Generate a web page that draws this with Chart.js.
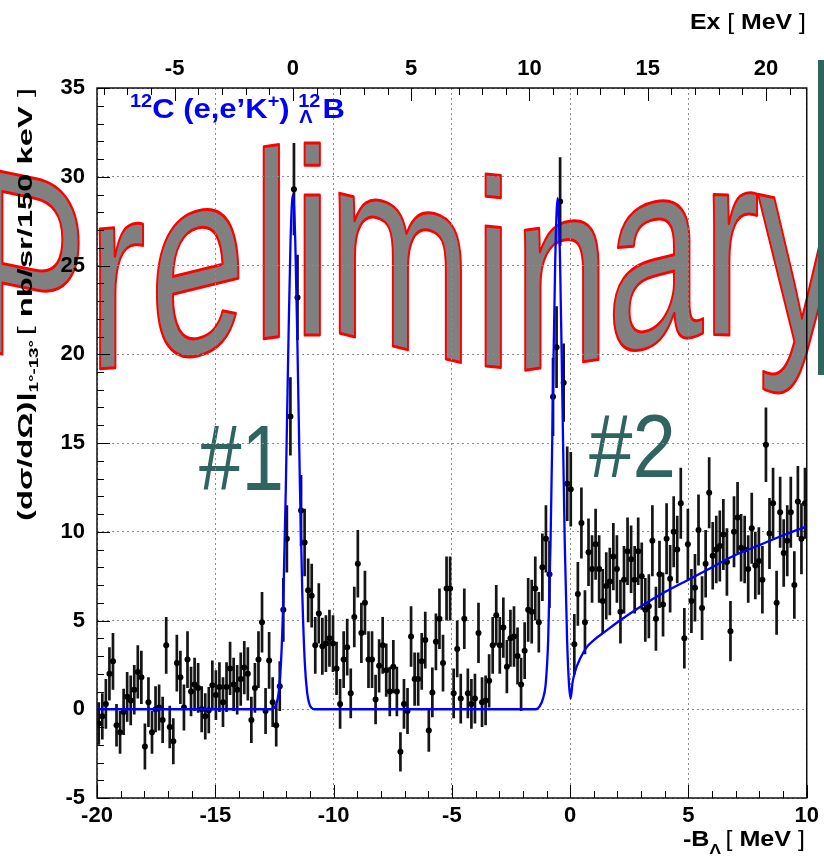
<!DOCTYPE html>
<html>
<head>
<meta charset="utf-8">
<script src="https://cdn.jsdelivr.net/npm/chart.js@4.4.1/dist/chart.umd.min.js"></script>
<style>
  html, body { margin: 0; padding: 0; background: #fff; }
  #wrap { width: 824px; height: 862px; }
</style>
</head>
<body>
<div id="wrap"><canvas id="chart" width="824" height="862"></canvas></div>
<script>
// histogram binning of -B_Lambda (MeV)
const binLow = -20;
const binWidth = 0.15;

// (dsigma/dOmega) per 150 keV bin
const counts = [
  -0.8, -0.4, 0.3, 2.0, 2.7, -0.9, -1.3, -0.15, 0.7, 0.5,
  1.1, 2.1, 1.8, -2.1, 0.4, -1.3, 0.0, 0.1, -0.6, 3.6,
  -1.0, -1.8, 2.6, 1.8, 0.1, 2.8, 1.0, 1.4, 1.2, 0.0,
  -0.4, -0.05, 1.35, 0.8, 1.25, 0.4, 1.25, 2.3, 1.4, 1.1,
  1.7, 2.35, 2.0, -0.6, 1.2, 2.8, 4.9, -0.1, 2.75, 0.4,
  -0.9, 1.3, 5.6, 9.6, 16.5, 29.3, 23.2, 11.2, 9.4, 6.7,
  6.4, 3.6, 5.4, 3.55, 3.7, 4.0, 3.7, 2.3, 0.3, 2.8,
  3.5, 0.9, 5.2, 8.2, 4.3, 6.0, 2.8, 2.8, 0.55, 2.45,
  3.6, 2.2, 1.0, 2.4, 1.0, -2.4, 0.3, -0.1, 4.1, 1.7,
  1.7, 2.7, 3.9, -1.2, 0.95, 3.8, 5.1, 2.6, 6.8, 6.8,
  0.9, 3.4, 0.6, 5.1, 0.9, 0.3, 0.6, 4.3, 0.4, 0.5,
  1.6, 3.6, 5.3, 3.6, 4.6, 2.4, 4.0, 4.1, 3.0, 1.4,
  3.3, 5.6, 5.5, 6.8, 4.9, 8.0, 9.6, 7.6, 17.6, 20.4,
  28.6, 18.4, 12.7, 12.4, 3.66, 6.5, 10.5, 4.9, 8.85, 7.9,
  9.3, 7.9, 6.1, 6.95, 7.2, 8.6, 7.9, 5.5, 7.3, 8.9,
  8.45, 7.3, 8.9, 7.5, 5.6, 5.8, 9.5, 5.1, 7.6, 5.9,
  9.6, 7.35, 10.0, 9.0, 11.6, 4.0, 9.3, 6.1, 6.85, 10.1,
  5.7, 8.2, 12.2, 8.65, 9.0, 9.2, 9.85, 8.3, 4.4, 10.0,
  10.8, 9.1, 9.0, 7.9, 10.2, 8.1, 8.35, 7.3, 14.9, 9.9,
  11.6, 6.0, 11.1, 8.8, 9.5, 11.1, 7.0, 11.7, 9.6, 11.6
];

// half length of each error bar
const errors = [
  1.2, 1.3, 1.4, 1.5, 1.6, 1.2, 1.2, 1.3, 1.4, 1.4,
  1.4, 1.5, 1.5, 1.3, 1.4, 1.2, 1.3, 1.3, 1.3, 1.6,
  1.2, 1.3, 1.6, 1.5, 1.3, 1.6, 1.4, 1.5, 1.4, 1.3,
  1.3, 1.3, 1.4, 1.4, 1.4, 1.4, 1.4, 1.5, 1.5, 1.4,
  1.5, 1.5, 1.5, 1.3, 1.4, 1.6, 1.7, 1.3, 1.6, 1.4,
  1.2, 1.4, 1.8, 1.9, 2.2, 2.6, 2.4, 2.0, 1.9, 1.8,
  1.8, 1.6, 1.7, 1.6, 1.6, 1.6, 1.6, 1.5, 1.4, 1.6,
  1.6, 1.4, 1.7, 1.9, 1.7, 1.8, 1.6, 1.6, 1.4, 1.5,
  1.6, 1.5, 1.4, 1.5, 1.4, 1.1, 1.4, 1.3, 1.7, 1.5,
  1.5, 1.6, 1.6, 1.2, 1.4, 1.6, 1.7, 1.6, 1.8, 1.8,
  1.4, 1.6, 1.4, 1.7, 1.4, 1.4, 1.4, 1.7, 1.4, 1.4,
  1.5, 1.6, 1.7, 1.6, 1.7, 1.5, 1.6, 1.7, 1.6, 1.5,
  1.6, 1.8, 1.8, 1.8, 1.7, 1.9, 1.9, 1.9, 2.2, 2.3,
  2.5, 2.2, 2.1, 2.1, 1.7, 1.8, 2.0, 1.8, 1.9, 1.9,
  2.0, 1.9, 1.8, 1.9, 1.9, 1.9, 1.9, 1.8, 1.9, 1.9,
  1.9, 1.9, 1.9, 1.9, 1.8, 1.8, 2.0, 1.8, 1.9, 1.8,
  2.0, 1.9, 2.0, 1.9, 2.0, 1.7, 2.0, 1.8, 1.9, 2.0,
  1.8, 1.9, 2.0, 1.9, 1.9, 2.0, 2.0, 1.9, 1.7, 2.0,
  2.0, 1.9, 1.9, 1.9, 2.0, 1.9, 1.9, 1.9, 2.1, 2.0,
  2.0, 1.8, 2.0, 1.9, 2.0, 2.0, 1.9, 2.0, 2.0, 2.0
];

// fitted curve, sampled off the blue line
const fitX = [
  -20, -12.62, -12.52, -12.42, -12.32, -12.22, -12.12, -12.02, -11.92, -11.82,
  -11.72, -11.62, -11.52, -11.42, -11.32, -11.22, -11.12, -11.02, -10.92, -10.82,
  -1.45, -1.3, -1.15, -1.03, -0.93, -0.83, -0.73, -0.63, -0.53, -0.43,
  -0.33, -0.23, -0.13, -0.05, 0.02, 0.1, 0.2, 0.4, 0.7, 1.0,
  1.5, 2.0, 3.0, 4.0, 5.0, 6.0, 7.0, 8.0, 9.0, 10.0
];
const fitY = [
  0, 0, 0.07, 0.28, 0.97, 2.7, 6.4, 12.4, 19.9, 26.4,
  29.0, 26.4, 19.9, 12.4, 6.4, 2.7, 0.97, 0.28, 0.07, 0,
  0, 0.15, 0.6, 1.5, 3.9, 9.4, 17.5, 25.4, 28.8, 25.4,
  17.5, 9.4, 3.9, 1.4, 0.6, 1.5, 2.1, 2.8, 3.5, 3.9,
  4.4, 4.9, 5.8, 6.6, 7.3, 8.0, 8.7, 9.25, 9.8, 10.3
];

// axis ranges and ticks
const xTicks = [-20, -15, -10, -5, 0, 5, 10];
const yTicks = [-5, 0, 5, 10, 15, 20, 25, 30, 35];
const exTicks = [-5, 0, 5, 10, 15, 20];
const exShift = 11.72; // Ex = -B_Lambda + shift

const FONT = "'Liberation Sans', Arial, Helvetica, sans-serif";
const TEAL = "#2f6461";

const points = counts.map((v, i) => ({ x: binLow + binWidth * (i + 0.5), y: v, e: errors[i] }));
const fitLine = fitX.map((x, i) => ({ x, y: fitY[i] }));

function richWidth(ctx, parts) {
  let w = 0;
  for (const p of parts) {
    ctx.font = p.font;
    w += ctx.measureText(p.t).width + (p.gap || 0);
  }
  return w;
}

// draw parts left to right, squeezed/stretched to a given total width
function richText(ctx, x, y, parts, width) {
  const natural = richWidth(ctx, parts);
  const k = width ? width / natural : 1;
  ctx.save();
  ctx.translate(x, y);
  ctx.scale(k, 1);
  let cx = 0;
  for (const p of parts) {
    ctx.font = p.font;
    ctx.fillText(p.t, cx, p.dy || 0);
    cx += ctx.measureText(p.t).width + (p.gap || 0);
  }
  ctx.restore();
}

// WordArt style wavy watermark
const wmWord = ["P", "r", "e", "l", "i", "m", "i", "n", "a", "r", "y"];
const wmCenters = [33, 122, 197, 271, 312, 401, 493, 562, 658, 736, 801];
const wave = (x) => 351.5 - 16.5 * Math.cos(2 * Math.PI * (x - 310) / 420);
const waveSlope = (x) => 16.5 * (2 * Math.PI / 420) * Math.sin(2 * Math.PI * (x - 310) / 420);

const backdrop = {
  id: "backdrop",
  beforeDraw(chart) {
    const ctx = chart.ctx;
    ctx.save();
    ctx.fillStyle = "#fff";
    ctx.fillRect(0, 0, chart.width, chart.height);

    const size = 265;
    const sx = 0.655;
    ctx.font = size + "px " + FONT;
    ctx.lineJoin = "round";
    wmWord.forEach((ch, i) => {
      const m = ctx.measureText(ch);
      const inkMid = (m.actualBoundingBoxRight - m.actualBoundingBoxLeft) / 2;
      const cx = wmCenters[i];
      const ox = cx - sx * inkMid;
      const s = waveSlope(cx);
      ctx.setTransform(sx, s * sx, 0, 1, ox, wave(cx) + s * (ox - cx));
      ctx.fillStyle = "#808080";
      ctx.fillText(ch, 0, 0);
      ctx.strokeStyle = "#ff0000";
      ctx.lineWidth = 3;
      ctx.strokeText(ch, 0, 0);
    });
    ctx.setTransform(1, 0, 0, 1, 0, 0);

    ctx.fillStyle = TEAL;
    ctx.fillRect(818, 60, 6, 315);
    ctx.font = "92px " + FONT;
    ctx.save();
    ctx.translate(199, 490);
    ctx.scale(0.83, 1);
    ctx.fillText("#1", 0, 0);
    ctx.restore();
    ctx.save();
    ctx.translate(589, 477);
    ctx.scale(0.85, 0.97);
    ctx.fillText("#2", 0, 0);
    ctx.restore();
    ctx.restore();
  }
};

const errorBars = {
  id: "errorBars",
  beforeDatasetsDraw(chart) {
    const { ctx, chartArea: a, scales: { x, y } } = chart;
    ctx.save();
    ctx.beginPath();
    ctx.rect(a.left, a.top, a.right - a.left, a.bottom - a.top);
    ctx.clip();
    ctx.strokeStyle = "#151515";
    ctx.lineWidth = 2.7;
    ctx.beginPath();
    for (const p of points) {
      const px = x.getPixelForValue(p.x);
      ctx.moveTo(px, y.getPixelForValue(p.y - p.e));
      ctx.lineTo(px, y.getPixelForValue(p.y + p.e));
    }
    ctx.stroke();
    ctx.restore();
  }
};

function minorTicks(lo, hi, step) {
  const out = [];
  for (let v = lo; v <= hi + 1e-9; v += step) out.push(Math.round(v * 1000) / 1000);
  return out;
}

const frame = {
  id: "frame",
  afterDraw(chart) {
    const { ctx, chartArea: a, scales: { x, y, x2 } } = chart;
    ctx.save();
    ctx.strokeStyle = "#000";
    ctx.lineWidth = 1;
    ctx.beginPath();
    for (const v of minorTicks(-5, 35, 1)) {
      const py = Math.round(y.getPixelForValue(v)) + 0.5;
      const len = v % 5 === 0 ? 13 : 7;
      ctx.moveTo(a.left, py);
      ctx.lineTo(a.left + len, py);
    }
    for (const v of minorTicks(-20, 10, 1)) {
      const px = Math.round(x.getPixelForValue(v)) + 0.5;
      const len = v % 5 === 0 ? 13 : 7;
      ctx.moveTo(px, a.bottom);
      ctx.lineTo(px, a.bottom - len);
    }
    for (const v of minorTicks(-8, 21, 1)) {
      const px = Math.round(x2.getPixelForValue(v)) + 0.5;
      const len = v % 5 === 0 ? 13 : 7;
      ctx.moveTo(px, a.top);
      ctx.lineTo(px, a.top + len);
    }
    ctx.stroke();
    ctx.lineWidth = 1.4;
    ctx.strokeRect(a.left, a.top, a.right - a.left, a.bottom - a.top);

    // reaction label 12C(e,e'K+)12_Lambda B
    ctx.fillStyle = "#0000ff";
    ctx.textBaseline = "alphabetic";
    const big = "bold 28px " + FONT;
    const small = "bold 18px " + FONT;
    const titleParts = [
      { t: "12", font: small, dy: -11 },
      { t: "C (e,e\u2019K", font: big },
      { t: "+", font: small, dy: -11 },
      { t: ") ", font: big }
    ];
    ctx.font = small;
    const stackW = ctx.measureText("12").width;
    ctx.font = big;
    const bW = ctx.measureText("B").width;
    const natural = richWidth(ctx, titleParts) + stackW + bW + 2;
    const tk = 215 / natural;
    ctx.save();
    ctx.translate(130, 118);
    ctx.scale(tk, 1);
    let cx = 0;
    for (const p of titleParts) {
      ctx.font = p.font;
      ctx.fillText(p.t, cx, p.dy || 0);
      cx += ctx.measureText(p.t).width;
    }
    ctx.font = small;
    ctx.fillText("12", cx, -11);
    ctx.fillText("\u039b", cx + 1, 5);
    ctx.font = big;
    ctx.fillText("B", cx + stackW + 2, 0);
    ctx.restore();

    // axis titles
    ctx.fillStyle = "#000";
    const tb = "bold 22px " + FONT;
    const tn = "22px " + FONT;
    richText(ctx, 690, 29, [
      { t: "Ex ", font: tb },
      { t: "[ ", font: tn },
      { t: "MeV", font: tb },
      { t: " ]", font: tn }
    ], 116);

    richText(ctx, 683, 846, [
      { t: "-B", font: tb },
      { t: "\u039b", font: "bold 15px " + FONT, dy: 8, gap: 4 },
      { t: "[ ", font: tn },
      { t: "MeV", font: tb },
      { t: " ]", font: tn }
    ], 122);

    ctx.save();
    ctx.translate(32, 521);
    ctx.rotate(-Math.PI / 2);
    richText(ctx, 0, 0, [
      { t: "(d\u03c3/d\u03a9)|", font: "bold 21px " + FONT },
      { t: "1\u00b0-13\u00b0", font: "bold 12px " + FONT, dy: 6, gap: 3 },
      { t: "[ ", font: "21px " + FONT },
      { t: "nb/sr/150 keV", font: "bold 21px " + FONT },
      { t: " ]", font: "21px " + FONT }
    ], 433);
    ctx.restore();
    ctx.restore();
  }
};

const tickFont = { family: FONT, size: 22, weight: "bold" };

new Chart(document.getElementById("chart"), {
  data: {
    datasets: [
      {
        type: "line",
        data: fitLine,
        borderColor: "#0000ff",
        borderWidth: 2.3,
        pointRadius: 0,
        cubicInterpolationMode: "monotone",
        fill: false,
        order: 0
      },
      {
        type: "scatter",
        data: points,
        pointRadius: 3,
        pointBackgroundColor: "#000",
        pointBorderColor: "#000",
        pointBorderWidth: 0,
        order: 1
      }
    ]
  },
  options: {
    responsive: false,
    animation: false,
    devicePixelRatio: 1,
    layout: { padding: { left: 0, right: 16, top: 0, bottom: 0 } },
    plugins: { legend: { display: false }, tooltip: { enabled: false } },
    scales: {
      x: {
        type: "linear",
        position: "bottom",
        min: -20,
        max: 10,
        afterBuildTicks: (s) => { s.ticks = xTicks.map((v) => ({ value: v })); },
        afterFit: (s) => { s.height = 64; },
        ticks: { color: "#000", font: tickFont, padding: 5, maxRotation: 0 },
        grid: { color: "#8c8c8c", lineWidth: 1, drawTicks: false },
        border: { display: false, dash: [2, 3] }
      },
      x2: {
        type: "linear",
        position: "top",
        min: -20 + exShift,
        max: 10 + exShift,
        afterBuildTicks: (s) => { s.ticks = exTicks.map((v) => ({ value: v })); },
        afterFit: (s) => { s.height = 88; },
        ticks: { color: "#000", font: tickFont, padding: 6, maxRotation: 0 },
        grid: { display: false, drawTicks: false },
        border: { display: false }
      },
      y: {
        type: "linear",
        min: -5,
        max: 35,
        afterBuildTicks: (s) => { s.ticks = yTicks.map((v) => ({ value: v })); },
        afterFit: (s) => { s.width = 97; },
        ticks: { color: "#000", font: tickFont, padding: 12 },
        grid: { color: "#8c8c8c", lineWidth: 1, drawTicks: false },
        border: { display: false, dash: [2, 3] }
      }
    }
  },
  plugins: [backdrop, errorBars, frame]
});
</script>
</body>
</html>
